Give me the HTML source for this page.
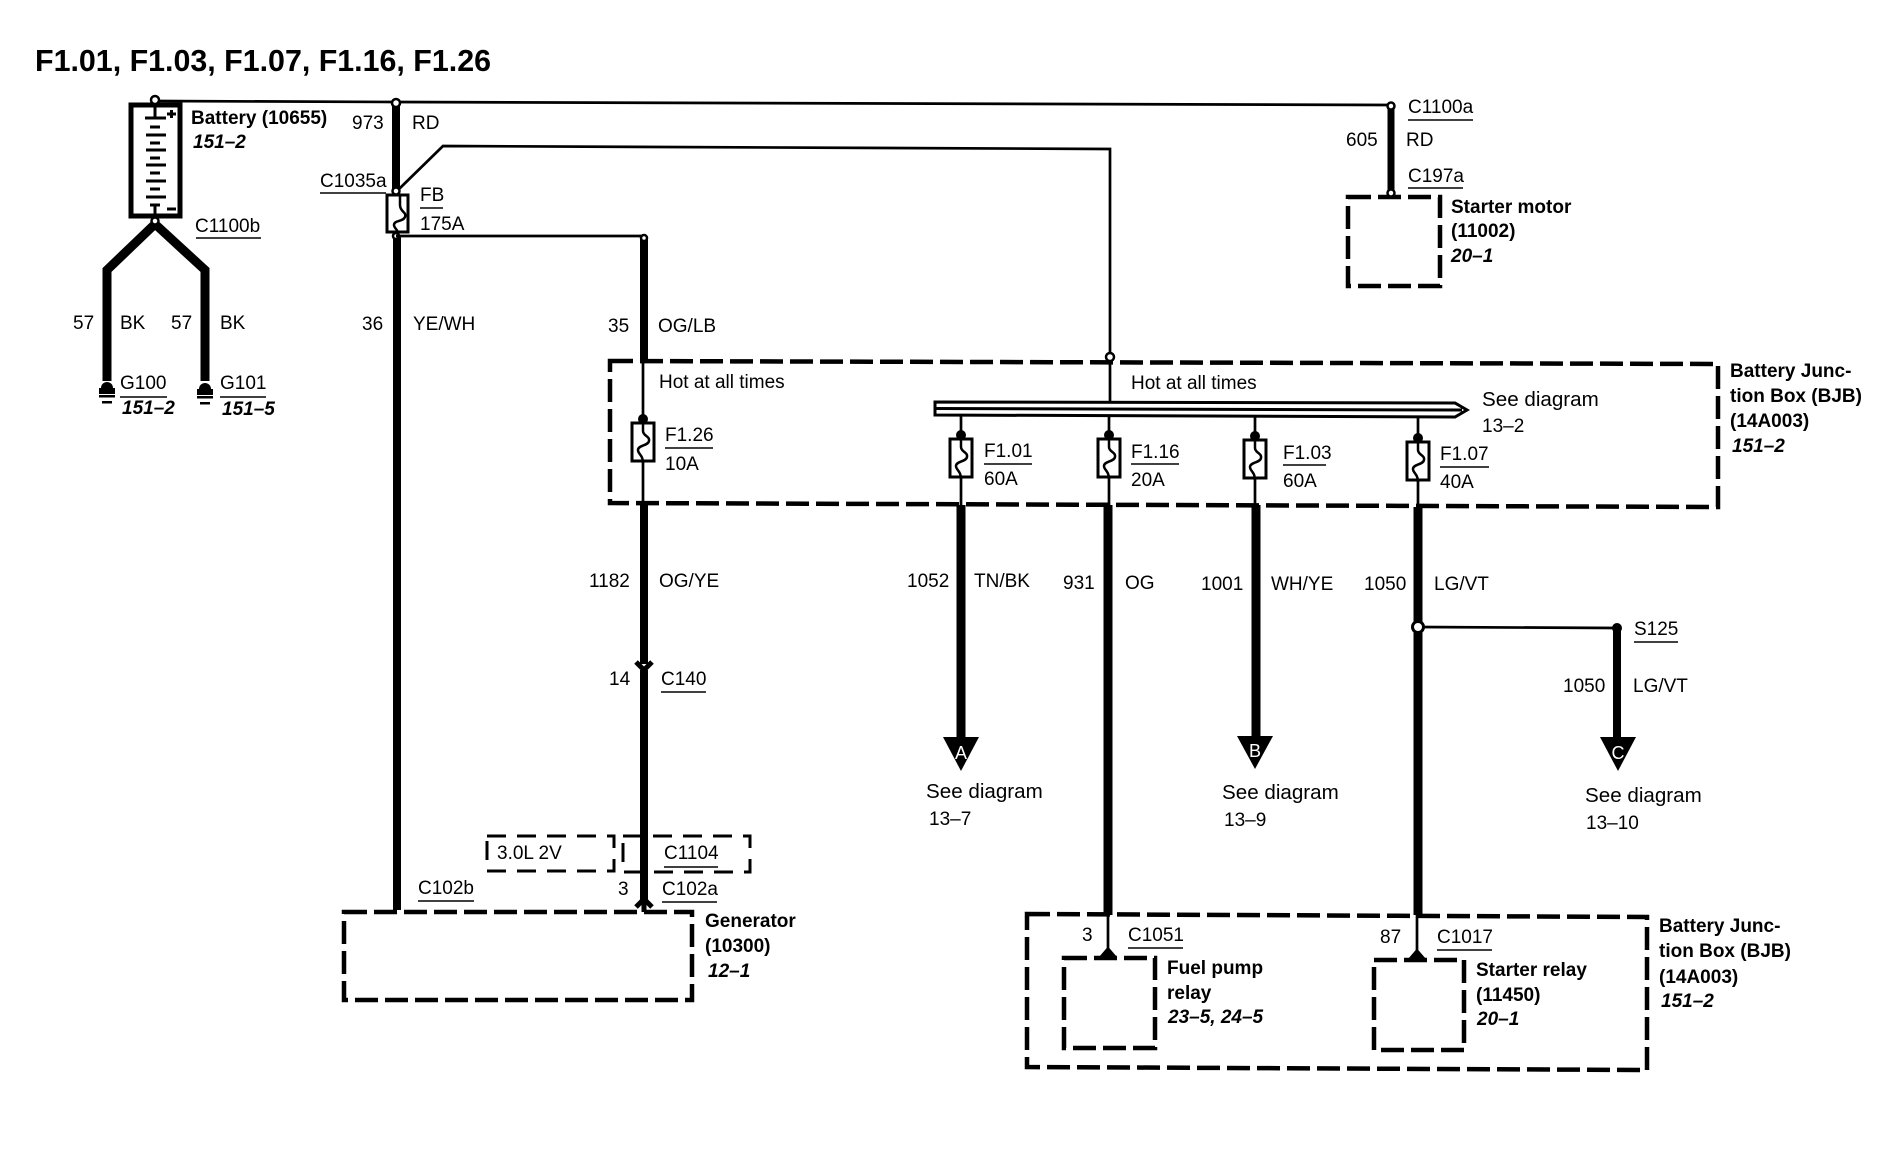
<!DOCTYPE html>
<html><head><meta charset="utf-8"><style>
html,body{margin:0;padding:0;background:#fff}
svg{display:block}
text{font-family:"Liberation Sans",sans-serif;font-size:19px;fill:#000}
.b{font-weight:bold}
.i{font-weight:bold;font-style:italic}
.s{font-size:20.6px}
.w{fill:none;stroke:#000;stroke-width:2.7}
.t{fill:none;stroke:#000;stroke-width:8}
.d{fill:none;stroke:#000;stroke-width:4.5;stroke-dasharray:23 7}
.d2{fill:none;stroke:#000;stroke-width:3;stroke-dasharray:19 11}
.u{stroke:#000;stroke-width:1.6}
.c{fill:#fff;stroke:#000;stroke-width:2.5}
</style></head><body>
<svg xmlns="http://www.w3.org/2000/svg" width="1894" height="1152" viewBox="0 0 1894 1152">
<defs>
<g id="fuse"><rect x="-11" y="0" width="22" height="38" fill="#fff" stroke="#000" stroke-width="3"/><path d="M0 -2V8C0 13 7 13 6 18C5 23 -5 22 -5 27C-5 31 0 32 0 40" fill="none" stroke="#000" stroke-width="2.5"/><circle cx="0" cy="-4" r="5"/></g>
<g id="gnd"><circle cx="0" cy="0" r="6"/><rect x="-8" y="0" width="16" height="6"/><rect x="-8" y="7" width="16" height="2.5"/><rect x="-5" y="13" width="10" height="2.5"/></g>
</defs>

<text x="35" y="71" class="b" style="font-size:30.4px" textLength="456">F1.01, F1.03, F1.07, F1.16, F1.26</text>

<!-- top wire -->
<path class="w" d="M155 101L396 102L1391 105"/>
<!-- battery -->
<rect x="131" y="105" width="49" height="111" fill="#fff" stroke="#000" stroke-width="5"/>
<path d="M155 104V117" stroke="#000" stroke-width="3"/>
<path d="M145 118H166M150 127H160M146 135H166M150 143H160M146 150H166M150 158H160M146 165H166M150 173H160M146 181H166M150 189H160M146 197H166M150 205H160" stroke="#000" stroke-width="3"/>
<path d="M155 205V220" stroke="#000" stroke-width="3"/>
<path d="M167 114H176M171.500 110V118M167 209H176" stroke="#000" stroke-width="3"/>
<circle class="c" cx="155" cy="100" r="4"/>
<path class="t" style="stroke-width:9" d="M155 224L107 270V381"/>
<path class="t" style="stroke-width:9" d="M155 224L205 270V381"/>
<circle class="c" cx="155" cy="221" r="3.500"/>
<use href="#gnd" x="107" y="388"/>
<use href="#gnd" x="205" y="389"/>

<!-- main 973 / 36 -->
<path class="t" d="M396 104V190"/>
<path class="t" d="M397 237V910"/>
<path class="w" d="M398 190L443 146L1110 149V402"/>
<rect x="387" y="195" width="21" height="37" fill="#fff" stroke="#000" stroke-width="3"/>
<path d="M400 195V205C400 212 407 212 405 217C403 222 394 220 394 225C394 228 398 230 398 233" fill="none" stroke="#000" stroke-width="2.5"/>
<circle class="c" cx="396" cy="103" r="4"/>
<circle class="c" cx="396" cy="191" r="3.500"/>
<circle class="c" cx="396" cy="236" r="3"/>
<path class="w" d="M396 236H644"/>
<path class="t" d="M644 238V362"/>
<circle class="c" cx="644" cy="238" r="3"/>

<!-- BJB upper -->
<path class="d" d="M610 361H610L1718 364V507L610 503Z"/>
<circle class="c" cx="1110" cy="357" r="4"/>
<path class="w" d="M643 362V420"/>
<use href="#fuse" x="643" y="423"/>
<path class="w" d="M643 461V503"/>
<path class="t" d="M644 503V664"/>
<path class="t" d="M644 670V902"/>
<path d="M636 662L644 670L652 662" fill="none" stroke="#000" stroke-width="5"/>
<path d="M636 907L644 899L652 907" fill="none" stroke="#000" stroke-width="5"/>
<path d="M644 900V912" stroke="#000" stroke-width="5"/>

<!-- bus -->
<path d="M935 402L1455 403L1467 410L1455 417L935 415Z" fill="#fff" stroke="#000" stroke-width="3"/>
<path d="M935 408.500L1462 410" stroke="#000" stroke-width="3"/>

<path class="w" d="M961 415V505"/><use href="#fuse" x="961" y="439"/>
<path class="w" d="M1109 415V505"/><use href="#fuse" x="1109" y="439"/>
<path class="w" d="M1255 416V505"/><use href="#fuse" x="1255" y="440"/>
<path class="w" d="M1418 417V507"/><use href="#fuse" x="1418" y="442"/>

<path class="t" style="stroke-width:9" d="M961 505V740"/>
<path class="t" style="stroke-width:9" d="M1108 505V915"/>
<path class="t" style="stroke-width:9" d="M1256 505V740"/>
<path class="t" style="stroke-width:9" d="M1418 507V915"/>
<path d="M943 737H979L961 771Z"/>
<path d="M1237 736H1273L1255 769Z"/>
<path d="M1600 737H1636L1618 771Z"/>
<text x="961" y="759" text-anchor="middle" style="fill:#fff;font-size:18px">A</text>
<text x="1255" y="757" text-anchor="middle" style="fill:#fff;font-size:18px">B</text>
<text x="1618" y="759" text-anchor="middle" style="fill:#fff;font-size:18px">C</text>

<!-- S125 -->
<path class="w" d="M1418 627L1616 628"/>
<circle cx="1418" cy="627" r="5.500" fill="#fff" stroke="#000" stroke-width="3"/>
<circle cx="1617" cy="628" r="5"/>
<path class="t" d="M1617 630V740"/>

<!-- boxes -->
<path class="d" d="M344 912H692V1000H344Z"/>
<path class="d2" d="M487 836H614V871H487Z"/>
<path class="d2" d="M623 836H750V872H623Z"/>
<path class="d" d="M1348 197H1440V286H1348Z"/>
<path class="t" style="stroke-width:7" d="M1391 108V193"/>
<circle class="c" cx="1391" cy="106" r="3.500"/>
<circle class="c" cx="1391" cy="193" r="3.500"/>

<path class="d" d="M1027 914L1647 917V1070L1027 1067Z"/>
<path class="d" d="M1064 958H1155V1048H1064Z"/>
<path class="d" d="M1374 960H1464V1050H1374Z"/>
<path class="w" d="M1108 915V956"/>
<path class="w" d="M1417 915V958"/>
<path d="M1102 955L1108 948L1114 955Z" stroke="#000" stroke-width="2"/>
<path d="M1411 957L1417 950L1423 957Z" stroke="#000" stroke-width="2"/>

<!-- underlines -->
<path class="u" d="M320 193H386M420 208H443M196 238H261M120 397H167M220 397H266M665 448H713M984 464H1032M1131 464H1179M1283 465H1326M1440 467H1489M1408 120H1473M1408 188H1463M661 692H706M664 867H718M418 901H474M662 902H717M1634 642H1678M1128 948H1183M1437 950H1492"/>

<!-- labels -->
<text x="191" y="124" class="b">Battery (10655)</text>
<text x="193" y="148" class="i">151–2</text>
<text x="352" y="129">973</text><text x="412" y="129">RD</text>
<text x="320" y="187">C1035a</text>
<text x="420" y="201">FB</text><text x="420" y="230">175A</text>
<text x="195" y="232">C1100b</text>
<text x="73" y="329">57</text><text x="120" y="329">BK</text>
<text x="171" y="329">57</text><text x="220" y="329">BK</text>
<text x="362" y="330">36</text><text x="413" y="330">YE/WH</text>
<text x="608" y="332">35</text><text x="658" y="332">OG/LB</text>
<text x="120" y="389">G100</text><text x="122" y="414" class="i">151–2</text>
<text x="220" y="389">G101</text><text x="222" y="415" class="i">151–5</text>

<text x="659" y="388">Hot at all times</text>
<text x="1131" y="389">Hot at all times</text>
<text x="665" y="441">F1.26</text><text x="665" y="470">10A</text>
<text x="984" y="457">F1.01</text><text x="984" y="485">60A</text>
<text x="1131" y="458">F1.16</text><text x="1131" y="486">20A</text>
<text x="1283" y="459">F1.03</text><text x="1283" y="487">60A</text>
<text x="1440" y="460">F1.07</text><text x="1440" y="488">40A</text>

<text x="589" y="587">1182</text><text x="659" y="587">OG/YE</text>
<text x="907" y="587">1052</text><text x="974" y="587">TN/BK</text>
<text x="1063" y="589">931</text><text x="1125" y="589">OG</text>
<text x="1201" y="590">1001</text><text x="1271" y="590">WH/YE</text>
<text x="1364" y="590">1050</text><text x="1434" y="590">LG/VT</text>

<text x="1408" y="113">C1100a</text>
<text x="1346" y="146">605</text><text x="1406" y="146">RD</text>
<text x="1408" y="182">C197a</text>
<text x="1451" y="213" class="b">Starter motor</text>
<text x="1451" y="237" class="b">(11002)</text>
<text x="1451" y="262" class="i">20–1</text>
<text x="1482" y="406" class="s">See diagram</text><text x="1482" y="432">13–2</text>
<text x="1730" y="377" class="b">Battery Junc-</text>
<text x="1730" y="402" class="b">tion Box (BJB)</text>
<text x="1730" y="427" class="b">(14A003)</text>
<text x="1732" y="452" class="i">151–2</text>

<text x="609" y="685">14</text><text x="661" y="685">C140</text>
<text x="497" y="859">3.0L 2V</text><text x="664" y="859">C1104</text>
<text x="418" y="894">C102b</text><text x="618" y="895">3</text><text x="662" y="895">C102a</text>
<text x="705" y="927" class="b">Generator</text>
<text x="705" y="952" class="b">(10300)</text>
<text x="708" y="977" class="i">12–1</text>

<text x="1634" y="635">S125</text>
<text x="1563" y="692">1050</text><text x="1633" y="692">LG/VT</text>
<text x="926" y="798" class="s">See diagram</text><text x="929" y="825">13–7</text>
<text x="1222" y="799" class="s">See diagram</text><text x="1224" y="826">13–9</text>
<text x="1585" y="802" class="s">See diagram</text><text x="1586" y="829">13–10</text>

<text x="1082" y="941">3</text><text x="1128" y="941">C1051</text>
<text x="1380" y="943">87</text><text x="1437" y="943">C1017</text>
<text x="1167" y="974" class="b">Fuel pump</text>
<text x="1167" y="999" class="b">relay</text>
<text x="1168" y="1023" class="i">23–5, 24–5</text>
<text x="1476" y="976" class="b">Starter relay</text>
<text x="1476" y="1001" class="b">(11450)</text>
<text x="1477" y="1025" class="i">20–1</text>
<text x="1659" y="932" class="b">Battery Junc-</text>
<text x="1659" y="957" class="b">tion Box (BJB)</text>
<text x="1659" y="983" class="b">(14A003)</text>
<text x="1661" y="1007" class="i">151–2</text>
</svg>
</body></html>
